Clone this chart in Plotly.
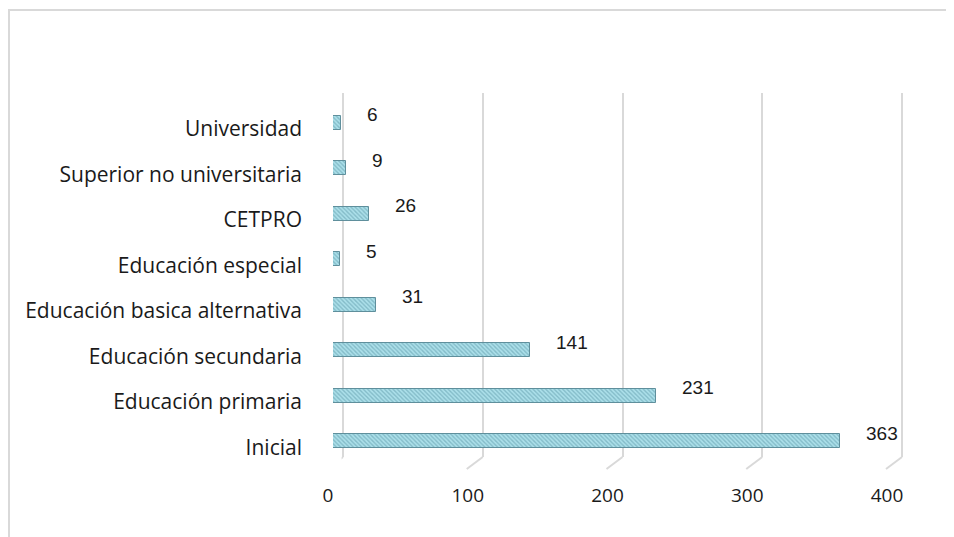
import plotly.graph_objects as go

# data (bottom to top)
categorias = [
    "Inicial",
    "Educación primaria",
    "Educación secundaria",
    "Educación basica alternativa",
    "Educación especial",
    "CETPRO",
    "Superior no universitaria",
    "Universidad",
]
valores = [363, 231, 141, 31, 5, 26, 9, 6]
ticks_x = [0, 100, 200, 300, 400]

# page body has an 8px margin, so the figure is sized to fit the window
OFF = 8
W, H = 954 - OFF, 537 - OFF


def px_x(p):
    return (p - OFF) / W


def px_y(p):
    return 1 - (p - OFF) / H


GRID = "#d9d9d9"
LABEL_FONT = dict(family="Open Sans", size=21, color="#1a1a1a")
TICK_FONT = dict(family="Open Sans", size=19, color="#1a1a1a")
VALUE_FONT = dict(family="Liberation Sans", size=19, color="#1a1a1a")

# grid axis: 0 at x=343, 400 at x=902 (padded by 1 unit so edge gridlines show)
SC = (902 - 343) / 400

fig = go.Figure()

# invisible trace so the grid subplot is drawn
fig.add_trace(go.Scatter(x=[0], y=[0], xaxis="x", yaxis="y",
                         mode="markers", marker=dict(opacity=0),
                         hoverinfo="skip", showlegend=False))

# bars
fig.add_trace(go.Bar(
    x=valores, y=categorias, orientation="h",
    xaxis="x2", yaxis="y2", width=0.3,
    marker=dict(
        color="#9fd1dd",
        line=dict(color="#5f8f9c", width=1),
        pattern=dict(shape="\\", fgcolor="#5a95a5", bgcolor="#ace0ea",
                     size=3, solidity=0.45),
    ),
    showlegend=False,
))

# value labels
for c, v in zip(categorias, valores):
    fig.add_annotation(x=v, y=c, xref="x2", yref="y2", text=str(v),
                       showarrow=False, xanchor="left", xshift=24, yshift=8,
                       font=VALUE_FONT)

# 3D floor ticks below gridlines
for t in ticks_x:
    fig.add_shape(type="line", xref="x", yref="paper", xsizemode="pixel",
                  xanchor=t, x0=0, x1=-16, y0=px_y(457), y1=px_y(469),
                  line=dict(color=GRID, width=2))

# chart border
fig.add_shape(type="rect", xref="paper", yref="paper",
              x0=px_x(9), x1=1.02, y0=-0.02, y1=px_y(10),
              line=dict(color=GRID, width=2), layer="below")

fig.update_layout(
    width=W, height=H,
    margin=dict(l=0, r=0, t=0, b=0, autoexpand=False),
    paper_bgcolor="white",
    plot_bgcolor="rgba(0,0,0,0)",
    bargap=0,
    xaxis=dict(
        domain=[px_x(343 - SC), px_x(902 + SC)], range=[-1, 401], anchor="y",
        tickvals=ticks_x, showgrid=True, gridcolor=GRID, gridwidth=2,
        zeroline=False, showline=False, ticks="", automargin=False,
        tickfont=TICK_FONT, ticklabelshift=-15, ticklabelstandoff=25,
    ),
    yaxis=dict(
        domain=[px_y(457), px_y(93)], range=[0, 1], anchor="x",
        visible=False, automargin=False,
    ),
    xaxis2=dict(
        domain=[px_x(333), px_x(892)], range=[0, 400], anchor="y2",
        visible=False, automargin=False,
    ),
    yaxis2=dict(
        domain=[px_y(464), px_y(100)], anchor="x2",
        categoryorder="array", categoryarray=categorias,
        range=[-0.5, len(categorias) - 0.5],
        showgrid=False, zeroline=False, showline=False, ticks="",
        tickfont=LABEL_FONT, ticklabelstandoff=30, ticklabelshift=6,
        automargin=False,
    ),
)

fig.write_html("out.html")
